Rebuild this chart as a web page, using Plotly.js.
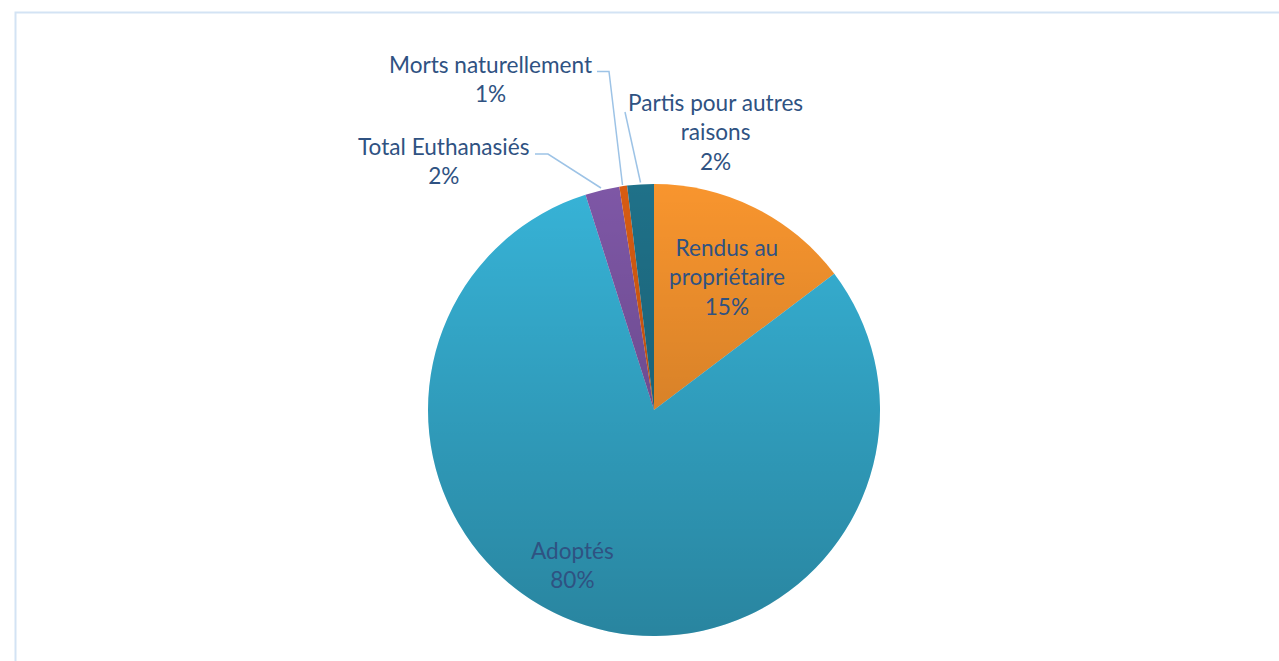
<!DOCTYPE html>
<html>
<head>
<meta charset="utf-8">
<script src="https://cdn.plot.ly/plotly-3.0.1.min.js"></script>
<style>html,body{margin:0;padding:0;background:#fff;}#chart{width:1279px;height:661px;}</style>
</head>
<body>
<div id="chart"></div>
<script>
// Data
const categories = ['Rendus au propriétaire', 'Adoptés', 'Total Euthanasiés', 'Morts naturellement', 'Partis pour autres raisons'];
const displayLabels = ['Rendus au<br>propriétaire', 'Adoptés', 'Total Euthanasiés', 'Morts naturellement', 'Partis pour autres<br>raisons'];
const shares = [14.7, 80.4, 2.45, 0.55, 1.9];
const colors = ['#F8952E', '#37B3D7', '#7E57A6', '#D85C12', '#1F7189'];

const W = 1279, H = 661;
const px = (x) => x / W;
const py = (y) => 1 - y / H;

// pie geometry (pixels)
const cx = 654, cy = 410, R = 226;

const total = shares.reduce((a, b) => a + b, 0);
const pctText = shares.map(v => Math.round(v / total * 100) + '%');

// label centre positions (pixels)
const labelPos = [[727, 277], [572, 565], [444, 161], [490, 78.5], [715, 132]];
const textColor = '#2F5282';

const annotations = categories.map((c, i) => ({
  x: px(labelPos[i][0]), y: py(labelPos[i][1]), xref: 'paper', yref: 'paper',
  xanchor: 'center', yanchor: 'middle', showarrow: false,
  text: displayLabels[i] + '<br>' + pctText[i],
  font: {family: 'Lato, "Open Sans", sans-serif', size: 22.6, color: textColor}
}));

const leader = '#9DC3E6';
const path = (pts) => 'M' + pts.map(p => px(p[0]) + ',' + py(p[1])).join(' L');
const shapes = [
  {type: 'rect', xref: 'paper', yref: 'paper', x0: px(15.5), y0: -0.1, x1: 1.1, y1: py(12.5),
   line: {color: '#D3E3F4', width: 2}, fillcolor: 'rgba(0,0,0,0)'},
  {type: 'path', xref: 'paper', yref: 'paper', path: path([[597, 71.5], [609, 71.5], [622.5, 185]]), line: {color: leader, width: 1.5}},
  {type: 'path', xref: 'paper', yref: 'paper', path: path([[535, 154], [548, 154], [601, 188]]), line: {color: leader, width: 1.5}},
  {type: 'path', xref: 'paper', yref: 'paper', path: path([[625, 112], [640.5, 182.5]]), line: {color: leader, width: 1.5}}
];

const grad = '<svg xmlns="http://www.w3.org/2000/svg" width="452" height="452" viewBox="0 0 452 452">' +
  '<defs><linearGradient id="g" x1="0" y1="0" x2="0" y2="1">' +
  '<stop offset="0" stop-color="#000" stop-opacity="0"/>' +
  '<stop offset="1" stop-color="#000" stop-opacity="0.26"/>' +
  '</linearGradient></defs><circle cx="226" cy="226" r="226" fill="url(#g)"/></svg>';

const data = [{
  type: 'pie',
  labels: categories,
  values: shares,
  sort: false,
  direction: 'clockwise',
  rotation: 0,
  textinfo: 'none',
  hoverinfo: 'label+percent',
  marker: {colors: colors, line: {width: 0}},
  domain: {x: [px(cx - R), px(cx + R)], y: [py(cy + R), py(cy - R)]},
  showlegend: false
}];

const layout = {
  width: W, height: H,
  margin: {l: 0, r: 0, t: 0, b: 0},
  paper_bgcolor: '#ffffff',
  showlegend: false,
  annotations: annotations,
  shapes: shapes,
  images: [{
    source: 'data:image/svg+xml;charset=utf-8,' + encodeURIComponent(grad),
    xref: 'paper', yref: 'paper', x: px(cx - R), y: py(cy - R),
    sizex: (2 * R) / W, sizey: (2 * R) / H, sizing: 'stretch',
    xanchor: 'left', yanchor: 'top', layer: 'above'
  }]
};

Plotly.newPlot('chart', data, layout, {displayModeBar: false, staticPlot: true});
</script>
</body>
</html>
